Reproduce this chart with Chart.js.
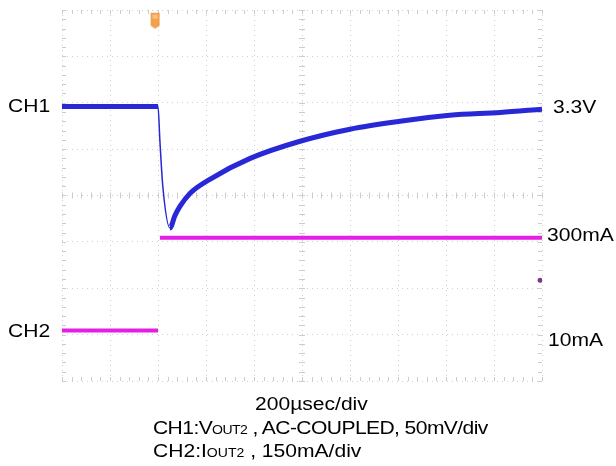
<!DOCTYPE html>
<html>
<head>
<meta charset="utf-8">
<script src="https://cdn.jsdelivr.net/npm/chart.js@4/dist/chart.umd.min.js"></script>
<style>
  body { margin: 0; background: #fff; }
  #scope { position: relative; width: 616px; height: 466px; }
  #scope canvas { position: absolute; left: 0; top: 0; }
  .lbl {
    position: absolute; font-family: "Liberation Sans", Arial, sans-serif;
    font-size: 18px; line-height: 18px; color: #000; white-space: nowrap;
    transform: scaleX(1.17); transform-origin: left top;
  }
  .lbl small { font-size: 12px; }
</style>
</head>
<body>
<div id="scope">
  <canvas id="wave" width="616" height="466"></canvas>
  <div class="lbl" style="left:8px;top:97px">CH1</div>
  <div class="lbl" style="left:8px;top:322px">CH2</div>
  <div class="lbl" style="left:553px;top:98px">3.3V</div>
  <div class="lbl" style="left:547px;top:226px">300mA</div>
  <div class="lbl" style="left:548px;top:331px">10mA</div>
  <div class="lbl" style="left:255px;top:395px">200µsec/div</div>
  <div class="lbl" style="left:153px;top:419px;letter-spacing:-0.5px">CH1:V<small>OUT2</small> , AC-COUPLED, 50mV/div</div>
  <div class="lbl" style="left:153px;top:442px">CH2:I<small>OUT2</small> , 150mA/div</div>
</div>
<script>
// screen units: 10 divisions across, 8 divisions high
var ch1Time  = [0, 2.0, 2.04, 2.10, 2.25, 2.35, 2.46, 2.67, 3.08, 3.92, 4.96, 6.0, 7.04, 8.08, 9.13, 10];
var ch1Level = [5.92, 5.92, 5.17, 4.20, 3.30, 3.56, 3.77, 4.05, 4.35, 4.80, 5.17, 5.43, 5.60, 5.73, 5.79, 5.86];

var ch2Time  = [0, 2.0, 2.0, 2.04, 10];
var ch2Level = [1.09, 1.09, null, 3.09, 3.09];

var triggerMark = { x: 1.94, y: 7.78 };
var ch2Marker   = { x: 9.96, y: 2.17 };

function toPoints(xs, ys) {
    return xs.map(function (x, i) { return { x: x, y: ys[i] }; });
}

// trigger flag glyph at the top of the screen
var flag = document.createElement('canvas');
flag.width = 11; flag.height = 19;
(function () {
    var c = flag.getContext('2d');
    c.fillStyle = 'rgba(238,150,60,0.9)';
    c.beginPath();
    c.moveTo(1, 2); c.lineTo(10, 2); c.lineTo(10, 15); c.lineTo(5.5, 18); c.lineTo(1, 15);
    c.closePath();
    c.fill();
    c.fillStyle = 'rgba(250,200,120,0.9)';
    c.fillRect(3, 4, 5, 4);
})();

// faint minor ticks on the frame and on the centre cross
var scopeTicks = {
    id: 'scopeTicks',
    beforeDatasetsDraw: function (chart) {
        var ctx = chart.ctx, xs = chart.scales.x, ys = chart.scales.y;
        var a = chart.chartArea;
        var cx = xs.getPixelForValue(5), cy = ys.getPixelForValue(4);
        ctx.save();
        ctx.strokeStyle = '#cccccc';
        ctx.lineWidth = 1;
        ctx.beginPath();
        for (var v = 0; v <= 10.001; v += 0.2) {
            var px = Math.round(xs.getPixelForValue(v)) + 0.5;
            ctx.moveTo(px, a.bottom); ctx.lineTo(px, a.bottom - 4);
            ctx.moveTo(px, a.top); ctx.lineTo(px, a.top + 4);
            ctx.moveTo(px, cy - 3); ctx.lineTo(px, cy + 3);
        }
        for (var w = 0; w <= 8.001; w += 0.2) {
            var py = Math.round(ys.getPixelForValue(w)) + 0.5;
            ctx.moveTo(a.left, py); ctx.lineTo(a.left + 4, py);
            ctx.moveTo(a.right, py); ctx.lineTo(a.right - 4, py);
            ctx.moveTo(cx - 3, py); ctx.lineTo(cx + 3, py);
        }
        ctx.stroke();
        ctx.restore();
    }
};

var fallEnd = 4; // segments before this index are the thin falling edge
new Chart(document.getElementById('wave'), {
    type: 'line',
    data: {
        datasets: [
            {
                label: 'CH1',
                data: toPoints(ch1Time, ch1Level),
                borderColor: 'rgb(40,40,215)',
                borderWidth: 5,
                pointRadius: 0,
                cubicInterpolationMode: 'monotone',
                segment: {
                    borderWidth: function (ctx) {
                        return (ctx.p0DataIndex >= 1 && ctx.p0DataIndex < fallEnd) ? 1.5 : 5;
                    }
                }
            },
            {
                label: 'CH2',
                data: toPoints(ch2Time, ch2Level),
                borderColor: 'rgb(228,30,228)',
                borderWidth: 4,
                pointRadius: 0,
                spanGaps: false
            },
            {
                label: 'trigger',
                data: [triggerMark],
                showLine: false,
                pointStyle: flag,
                pointRadius: 9
            },
            {
                label: 'marker',
                data: [ch2Marker],
                showLine: false,
                pointRadius: 2.5,
                backgroundColor: '#7a3a8a',
                borderWidth: 0
            }
        ]
    },
    options: {
        responsive: false,
        animation: false,
        layout: { padding: { left: 62, right: 74, top: 8, bottom: 85 } },
        plugins: { legend: { display: false }, tooltip: { enabled: false } },
        scales: {
            x: {
                type: 'linear', min: 0, max: 10,
                ticks: { display: false, stepSize: 1 },
                grid: { color: '#d0d0d0', drawTicks: false },
                border: { display: false, dash: [1, 4] }
            },
            y: {
                type: 'linear', min: 0, max: 8,
                ticks: { display: false, stepSize: 1 },
                grid: { color: '#d0d0d0', drawTicks: false },
                border: { display: false, dash: [1, 4] }
            }
        }
    },
    plugins: [scopeTicks]
});
</script>
</body>
</html>
